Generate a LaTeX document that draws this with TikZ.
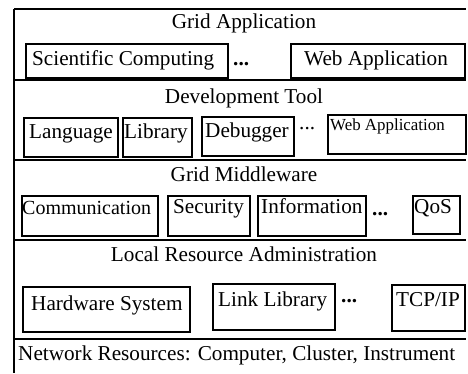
\documentclass[tikz,border=0pt]{standalone}
\usepackage{fontspec}
\setmainfont{Liberation Serif}
\begin{document}
\begin{tikzpicture}[x=1pt,y=-1pt,
  frame/.style={line width=1.6pt},
  box/.style={draw,line width=1.6pt,inner sep=0pt,anchor=north west},
  txt/.style={inner sep=0pt,anchor=base west,font=\fontsize{21.2}{24}\selectfont},
  ttl/.style={inner sep=0pt,anchor=base,font=\fontsize{21.2}{24}\selectfont},
  small/.style={inner sep=0pt,anchor=base west,font=\fontsize{16.9}{19}\selectfont}]
\useasboundingbox (0,0) rectangle (468,373);
% frame
\coordinate (tl) at (14,9);
\coordinate (bl) at (14,373);
\draw[frame] (tl) -- (bl);
\foreach \yy in {9,80,160,240,339} \draw[frame] (14,\yy) -- (466,\yy);
% layer 1
\node[ttl] (t1) at (244,28) {Grid Application};
\node[box,minimum width=202pt,minimum height=34pt] (scb) at (25,43) {};
\node[txt] (sc) at (32,65) {Scientific Computing};
\node[txt] (d1) at (233,65) {\textbf{...}};
\node[box,minimum width=174pt,minimum height=34pt] (wa1b) at (290,43) {};
\node[txt] (wa1) at (304,65) {Web Application};
% layer 2
\node[ttl] (t2) at (244,103) {Development Tool};
\node[box,minimum width=94pt,minimum height=39pt] (langb) at (23,117) {};
\node[txt] (lang) at (29,138) {Language};
\node[box,minimum width=69pt,minimum height=39pt] (libb) at (122,117) {};
\node[txt] (lib) at (124,138) {Library};
\node[box,minimum width=92pt,minimum height=39pt] (dbgb) at (201,116) {};
\node[txt] (dbg) at (205,137) {Debugger};
\node[txt] (d2) at (299,129) {...};
\node[box,minimum width=138pt,minimum height=39pt] (wa2b) at (327,114) {};
\node[small] (wa2) at (330,130) {Web Application};
% layer 3
\node[ttl] (t3) at (244,181) {Grid Middleware};
\node[box,minimum width=136pt,minimum height=40pt] (commb) at (21,195) {};
\node[txt,font=\fontsize{20}{24}\selectfont] (comm) at (22,214) {Communication};
\node[box,minimum width=82pt,minimum height=40pt] (secb) at (167,195) {};
\node[txt] (sec) at (173,213) {Security};
\node[box,minimum width=108pt,minimum height=40pt] (infob) at (257,195) {};
\node[txt] (info) at (261,213) {Information};
\node[txt] (d3) at (372,215) {\textbf{...}};
\node[box,minimum width=47pt,minimum height=38pt] (qosb) at (412,195) {};
\node[txt] (qos) at (414,213) {QoS};
% layer 4
\node[ttl] (t4) at (244,261) {Local Resource Administration};
\node[box,minimum width=167pt,minimum height=45pt] (hwb) at (22,286) {};
\node[txt] (hw) at (31,310) {Hardware System};
\node[box,minimum width=122pt,minimum height=46pt] (llb) at (212,283) {};
\node[txt] (ll) at (218,306) {Link Library};
\node[txt] (d4) at (341,302) {\textbf{...}};
\node[box,minimum width=73pt,minimum height=46pt] (tcpb) at (391,284) {};
\node[txt] (tcp) at (396,306) {TCP/IP};
% layer 5
\node[txt] (t5) at (18,360) {Network Resources: Computer, Cluster, Instrument};
\end{tikzpicture}
\end{document}
